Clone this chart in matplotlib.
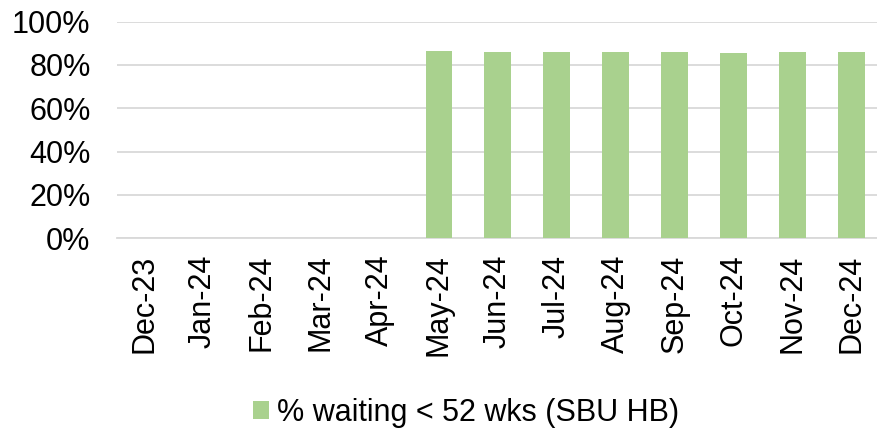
import matplotlib
matplotlib.use("Agg")
from matplotlib import pyplot as plt
from matplotlib.ticker import PercentFormatter

plt.rcParams['font.family'] = ['Liberation Sans', 'DejaVu Sans']

months = ['Dec-23', 'Jan-24', 'Feb-24', 'Mar-24', 'Apr-24', 'May-24', 'Jun-24',
          'Jul-24', 'Aug-24', 'Sep-24', 'Oct-24', 'Nov-24', 'Dec-24']
# no data before May-24
pct_under_52 = [None, None, None, None, None, 0.866, 0.860, 0.860, 0.860,
                0.860, 0.854, 0.860, 0.860]

fig = plt.figure(figsize=(8.77, 4.32), dpi=100)
ax = fig.add_axes([0.1334, 0.449, 0.871, 0.5007])

xs = [i for i, v in enumerate(pct_under_52) if v is not None]
vals = [v for v in pct_under_52 if v is not None]
ax.bar(xs, vals, width=0.45, color='#A9D18E', zorder=3,
       label='% waiting < 52 wks (SBU HB)')

ax.set_xlim(-0.46, 12.5)
ax.set_ylim(0, 1)
ax.set_yticks([0, 0.2, 0.4, 0.6, 0.8, 1.0])
ax.yaxis.set_major_formatter(PercentFormatter(1.0, decimals=0))
ax.set_xticks(range(len(months)))
ax.set_xticklabels(months, rotation=90)
ax.tick_params(axis='both', length=0, labelsize=22, colors='#000000')
ax.tick_params(axis='y', pad=19)
ax.tick_params(axis='x', pad=12)

ax.grid(axis='y', color='#D9D9D9', linewidth=1.3, zorder=0)
for s in ['top', 'right', 'left']:
    ax.spines[s].set_visible(False)
ax.spines['bottom'].set_color('#D9D9D9')
ax.spines['bottom'].set_linewidth(1.3)

fig.legend(loc='center', bbox_to_anchor=(0.531, 0.044), frameon=False,
           fontsize=22, handlelength=0.53, handleheight=0.53, handletextpad=0.25,
           borderpad=0, borderaxespad=0)

fig.savefig('out.png', dpi=100)
